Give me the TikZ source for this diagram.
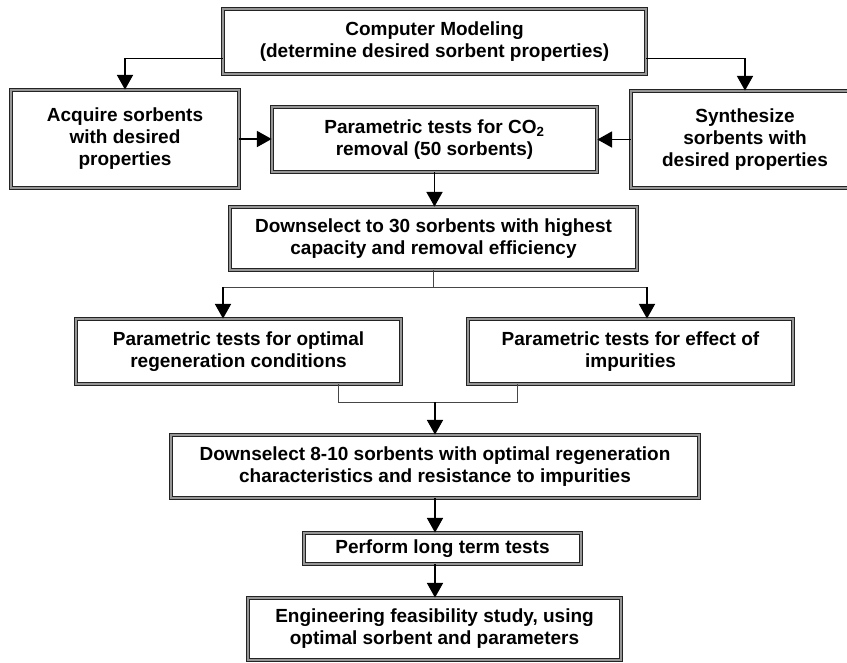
\documentclass[tikz,border=0pt]{standalone}
\usepackage{fontspec}
\setmainfont{Liberation Sans}
\usetikzlibrary{arrows.meta}
\definecolor{boxline}{RGB}{35,35,35}
\definecolor{boxgap}{RGB}{150,150,150}
\definecolor{linkgray}{RGB}{70,70,70}
\tikzset{every picture/.style={line width=0.75pt}}

\begin{document}
\begin{tikzpicture}[x=0.75pt,y=0.75pt,yscale=-1,xscale=1,
  stepbox/.style={draw=boxline,double=boxgap,double distance=1.2pt,line width=0.6pt,
    align=center,inner sep=0pt,font=\fontsize{14.25}{16.5}\selectfont\bfseries},
  flow/.style={-{Triangle[width=12pt,length=11pt]},line width=1.2pt},
  link/.style={line width=0.7pt,color=linkgray}]
%set diagram size
\useasboundingbox (0,0) rectangle (847,662);

%Shape: Rectangle [id:comp]
\node [stepbox,minimum width=317.25pt,minimum height=48.75pt] (comp) at (434.5,41.5) {Computer Modeling\\(determine desired sorbent properties)};
%Shape: Rectangle [id:acq]
\node [stepbox,minimum width=171pt,minimum height=73.5pt] (acq) at (125,139) {Acquire sorbents\\with desired\\properties};
%Shape: Rectangle [id:co2]
\node [stepbox,minimum width=243.75pt,minimum height=48.75pt] (co2) at (434.5,139.5) {Parametric tests for CO\textsubscript{2}\\removal (50 sorbents)};
%Shape: Rectangle [id:syn]
\node [stepbox,minimum width=171pt,minimum height=72.75pt] (syn) at (745,139.5) {Synthesize\\sorbents with\\desired properties};
%Shape: Rectangle [id:ds30]
\node [stepbox,minimum width=305.25pt,minimum height=47.25pt] (ds30) at (433.5,238.5) {Downselect to 30 sorbents with highest\\capacity and removal efficiency};
%Shape: Rectangle [id:regen]
\node [stepbox,minimum width=243.75pt,minimum height=48.75pt] (regen) at (238.5,351.5) {Parametric tests for optimal\\regeneration conditions};
%Shape: Rectangle [id:imp]
\node [stepbox,minimum width=243.75pt,minimum height=48.75pt] (imp) at (630.5,351.5) {Parametric tests for effect of\\impurities};
%Shape: Rectangle [id:ds8]
\node [stepbox,minimum width=396pt,minimum height=47.25pt] (ds8) at (435,466.5) {Downselect 8-10 sorbents with optimal regeneration\\characteristics and resistance to impurities};
%Shape: Rectangle [id:perf]
\node [stepbox,minimum width=207.75pt,minimum height=23.25pt] (perf) at (442.5,548.5) {Perform long term tests};
%Shape: Rectangle [id:eng]
\node [stepbox,minimum width=279.75pt,minimum height=46.5pt] (eng) at (434.5,629) {Engineering feasibility study, using\\optimal sorbent and parameters};

%Connectors from the top box
\draw [flow] ([yshift=-12pt]comp.south west) -| (acq.north);
\draw [flow] ([yshift=-12pt]comp.south east) -| (syn.north);
\draw [flow] (acq.east) -- (acq.east -| co2.west);
\draw [flow] (syn.west) -- (syn.west -| co2.east);
\draw [flow] (co2.south) -- (co2.south |- ds30.north);

%Split to the two test boxes
\coordinate (splitL) at (223,287);
\coordinate (splitR) at (647,287);
\draw [link] (ds30.south) -- (ds30.south |- splitL);
\draw [link] (splitL) -- (splitR);
\draw [flow] (splitL) -- (splitL |- regen.north);
\draw [flow] (splitR) -- (splitR |- imp.north);

%Join of the two test boxes
\coordinate (joinL) at (338,402);
\coordinate (joinR) at (517,402);
\draw [link] (joinL |- regen.south) -- (joinL) -- (joinR) -- (joinR |- imp.south);
\draw [flow] (ds8.north |- joinL) -- (ds8.north);

%Last steps
\draw [flow] (ds8.south) -- (ds8.south |- perf.north);
\draw [flow] (ds8.south |- perf.south) -- (ds8.south |- eng.north);
\end{tikzpicture}
\end{document}
